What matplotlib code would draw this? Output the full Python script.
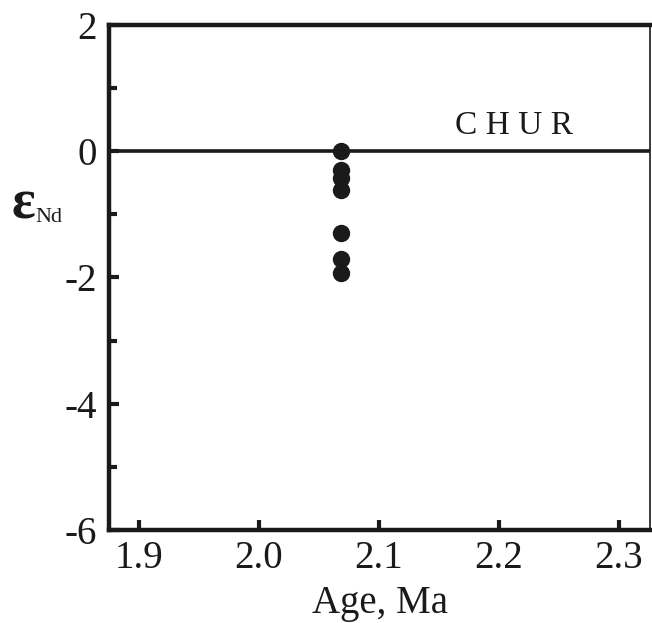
import numpy as np
import matplotlib
matplotlib.use("Agg")
import matplotlib.pyplot as plt
from matplotlib.ticker import MultipleLocator

# Sample ages [Ma] and epsilon Nd values
age = [2.068, 2.068, 2.068, 2.068, 2.068, 2.068, 2.068]
eps_nd = [0.0, -0.3, -0.43, -0.62, -1.3, -1.7, -1.93]

x_ticks = [1.9, 2.0, 2.1, 2.2, 2.3]
y_ticks = [2, 0, -2, -4, -6]

plt.rcParams['font.family'] = ['Liberation Serif', 'DejaVu Serif']

fig = plt.figure(figsize=(6.52, 6.23), dpi=100)
ax = fig.add_axes([0.1672, 0.1493, 0.8298, 0.8106])

# CHUR reference line
ax.axhline(0, color='#1a1a1a', linewidth=2.6, zorder=1)
ax.text(2.213, 0.27, 'C H U R', fontsize=24, ha='center', va='baseline', color='#1a1a1a')

ax.plot(age, eps_nd, 'o', color='#1a1a1a', markersize=11.5, zorder=3)

ax.set_xlim(1.875, 2.326)
ax.set_ylim(-6, 2)
ax.set_xticks(x_ticks)
ax.set_xticklabels(['%.1f' % v for v in x_ticks])
ax.set_yticks(y_ticks)
ax.set_yticklabels(['%d' % v for v in y_ticks])
ax.yaxis.set_minor_locator(MultipleLocator(1))

ax.tick_params(axis='both', which='major', direction='in', length=7, width=3,
               labelsize=28, color='#1a1a1a', labelcolor='#1a1a1a')
ax.tick_params(axis='y', which='minor', direction='in', length=5.5, width=3, color='#1a1a1a')
ax.tick_params(axis='x', pad=7)
ax.tick_params(axis='y', pad=9)

for side in ['top', 'left', 'bottom']:
    ax.spines[side].set_linewidth(3.2)
    ax.spines[side].set_color('#1a1a1a')
ax.spines['right'].set_linewidth(1.2)
ax.spines['right'].set_color('#1a1a1a')

ax.set_xlabel('Age, Ma', fontsize=28, color='#1a1a1a', labelpad=6)

# epsilon Nd label
fig.text(0.018, 0.672, 'ε', fontsize=40, fontweight='bold', color='#1a1a1a', va='center')
fig.text(0.055, 0.651, 'Nd', fontsize=16, color='#1a1a1a', va='center')

fig.savefig('out.png', dpi=100)
